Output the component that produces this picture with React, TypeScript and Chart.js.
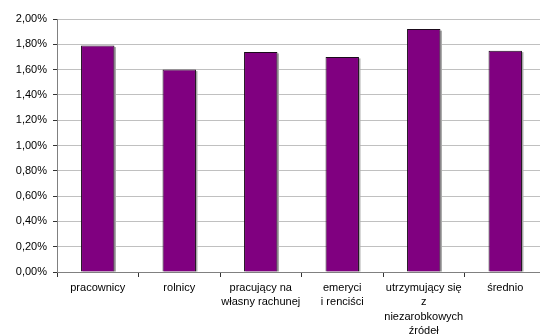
import React, { useEffect, useRef } from "react";
import { Chart, registerables } from "chart.js";

Chart.register(...registerables);

const categories: (string | string[])[] = [
  "pracownicy",
  "rolnicy",
  ["pracujący na", "własny rachunej"],
  ["emeryci", "i renciści"],
  ["utrzymujący się", "z", "niezarobkowych", "źródeł"],
  "średnio",
];

const values = [1.79, 1.6, 1.74, 1.7, 1.92, 1.75];

const yMin = 0;
const yMax = 2;
const yStep = 0.2;

const fmtPct = (v: number) => v.toFixed(2).replace(".", ",") + "%";

const FONT = "'Liberation Sans', Arial, sans-serif";

// thin grey drop shadow behind each bar
const barShadow = {
  id: "barShadow",
  beforeDatasetsDraw(chart: any) {
    const ctx = chart.ctx;
    const meta = chart.getDatasetMeta(0);
    ctx.save();
    ctx.fillStyle = "#a8a8a8";
    meta.data.forEach((bar: any) => {
      const { x, y, base, width } = bar.getProps(["x", "y", "base", "width"], true);
      ctx.fillRect(x - width / 2 + 1.5, y + 1.5, width, base - y - 1.5);
    });
    ctx.restore();
  },
};

export default function App() {
  const ref = useRef<HTMLCanvasElement | null>(null);

  useEffect(() => {
    document.body.style.margin = "0";
    document.body.style.overflow = "hidden";
    if (!ref.current) return;
    const chart = new Chart(ref.current, {
      type: "bar",
      data: {
        labels: categories,
        datasets: [
          {
            data: values,
            backgroundColor: "#800080",
            borderColor: "#1a0a1a",
            borderWidth: 1,
            barPercentage: 0.41,
            categoryPercentage: 1,
          },
        ],
      },
      options: {
        animation: false,
        responsive: true,
        maintainAspectRatio: false,
        layout: { padding: { top: 19, right: 0, bottom: 0, left: 0 } },
        plugins: {
          legend: { display: false },
          tooltip: { enabled: false },
        },
        scales: {
          x: {
            grid: {
              display: true,
              offset: true,
              drawOnChartArea: false,
              tickLength: 5,
              tickColor: "#333333",
            },
            border: { color: "#808080", width: 1 },
            ticks: {
              color: "#000000",
              font: { family: FONT, size: 11, lineHeight: 1.29 },
              padding: 4,
              maxRotation: 0,
              autoSkip: false,
            },
            afterFit(scale: any) {
              scale.height = 63;
            },
          },
          y: {
            min: yMin,
            max: yMax,
            grid: {
              color: "#c0c0c0",
              tickColor: "#333333",
              tickLength: 4,
            },
            border: { color: "#808080", width: 1 },
            ticks: {
              stepSize: yStep,
              color: "#000000",
              font: { family: FONT, size: 11 },
              padding: 6,
              callback: (v: any) => fmtPct(Number(v)),
            },
            afterFit(scale: any) {
              scale.width = 57;
            },
          },
        },
      },
      plugins: [barShadow],
    });
    return () => chart.destroy();
  }, []);

  return (
    <div style={{ width: 540, height: 335, overflow: "hidden" }}>
      <div style={{ width: 546, height: 335, position: "relative" }}>
        <canvas ref={ref} />
      </div>
    </div>
  );
}
